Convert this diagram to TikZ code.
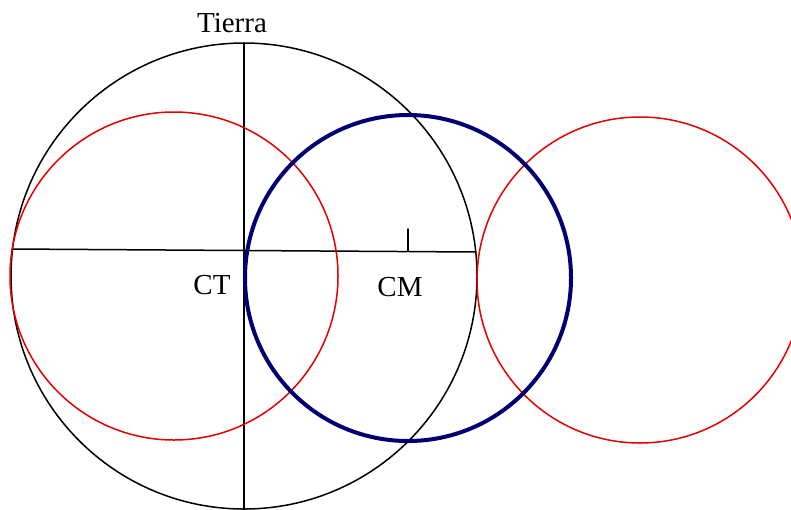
\documentclass[tikz,border=0pt]{standalone}
\usepackage{fontspec}
\setmainfont{Liberation Serif}
\usetikzlibrary{calc}
\begin{document}
\begin{tikzpicture}[
  x=0.5pt, y=-0.5pt,
  line cap=round, line join=round,
  earth/.style={line width=0.75pt, black},
  orbit/.style={line width=0.75pt, red!90!black},
  moon/.style={line width=2pt, blue!45!black},
  lbl/.style={font=\fontsize{14.5}{16}\selectfont, inner sep=0pt}
]
  \useasboundingbox (0,0) rectangle (791,509);
  \clip (0,0) rectangle (791,509);
  % centres
  \coordinate (CT) at (244,276);
  \coordinate (CM) at (408,278);
  % axes of the earth
  \coordinate (top) at (244,43);
  \coordinate (bot) at (244,509);
  \coordinate (lft) at (12,249);
  \coordinate (rgt) at (476,252);
  \coordinate (tick) at (408,229);
  \coordinate (tickb) at (408,251);
  % earth
  \draw[earth] (CT) circle (233);
  \draw[earth] (top) -- (bot);
  \draw[earth] (lft) -- (rgt);
  \draw[earth] (tick) -- (tickb);
  % red circles
  \draw[orbit] (174,276) circle (164);
  \draw[orbit] (640,280) circle (163);
  % blue circle
  \draw[moon] (CM) circle (163);
  % labels
  \node[lbl] (tierra) at (232,23) {Tierra};
  \node[lbl] (ct) at (212,285) {CT};
  \node[lbl] (cm) at (400,287) {CM};
\end{tikzpicture}
\end{document}
